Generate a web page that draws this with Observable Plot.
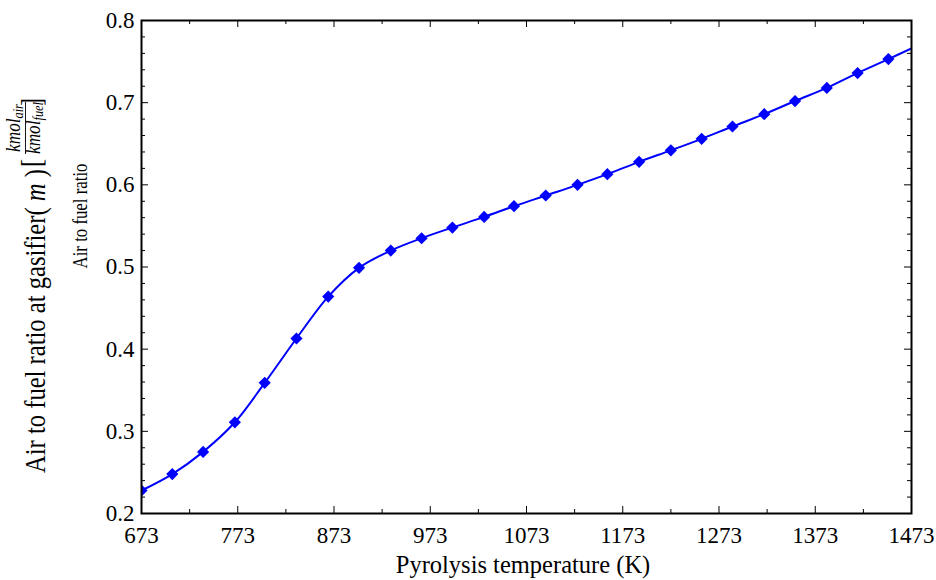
<!DOCTYPE html>
<html>
<head>
<meta charset="utf-8">
<script src="https://cdn.jsdelivr.net/npm/d3@7"></script>
<script src="https://cdn.jsdelivr.net/npm/@observablehq/plot@0.6"></script>
<style>
  html, body { margin: 0; padding: 0; background: white; }
  #wrap { width: 936px; height: 580px; }
</style>
</head>
<body>
<div id="wrap"></div>
<script>
// ---- data ----
const temperatures = [673, 705, 737, 770, 801, 834, 867, 899, 932, 964, 996, 1029, 1060, 1093, 1126, 1157, 1190, 1223, 1255, 1287, 1320, 1352, 1385, 1417, 1449];
const airFuelRatio = [0.228, 0.248, 0.275, 0.311, 0.359, 0.413, 0.464, 0.499, 0.520, 0.535, 0.548, 0.561, 0.574, 0.587, 0.600, 0.613, 0.628, 0.642, 0.656, 0.671, 0.686, 0.702, 0.718, 0.736, 0.753];
const lineEndTemperature = [1473];
const lineEndRatio = [0.766];
const xTicks = [673, 773, 873, 973, 1073, 1173, 1273, 1373, 1473];
const xMinorTicks = [723, 823, 923, 1023, 1123, 1223, 1323, 1423];
const yTicks = [0.2, 0.3, 0.4, 0.5, 0.6, 0.7, 0.8];
const yMinorTicks = [0.22, 0.24, 0.26, 0.28, 0.32, 0.34, 0.36, 0.38, 0.42, 0.44, 0.46, 0.48, 0.52, 0.54, 0.56, 0.58, 0.62, 0.64, 0.66, 0.68, 0.72, 0.74, 0.76, 0.78];
const xTitle = "Pyrolysis temperature (K)";
const yTitleSmall = "Air to fuel ratio";
const yTitleMain = "Air to fuel ratio at gasifier( ";
const yTitleVar = "m";

// ---- build tables ----
const markers = temperatures.map((t, i) => ({t, r: airFuelRatio[i]}));
const linePts = markers.concat(lineEndTemperature.map((t, i) => ({t, r: lineEndRatio[i]})));

const W = 936, H = 580;
const mL = 141, mR = 25, mT = 20, mB = 67;
const pw = W - mL - mR, ph = H - mT - mB;
const serif = "'Liberation Serif', 'Times New Roman', serif";
const blue = "#0000ff";

const chart = Plot.plot({
  width: W, height: H,
  marginLeft: mL, marginRight: mR, marginTop: mT, marginBottom: mB,
  style: {fontFamily: serif, color: "black", background: "white", overflow: "visible"},
  x: {domain: [673, 1473]},
  y: {domain: [0.2, 0.8]},
  marks: [
    Plot.axisX(xTicks, {tickSize: 0, tickPadding: 13, fontSize: 23, tickFormat: d => String(d), label: null}),
    Plot.axisY(yTicks, {tickSize: 0, tickPadding: 7, fontSize: 23, tickFormat: d3.format(".1f"), label: null}),
    // inward ticks, bottom & top
    Plot.tickX(xTicks, {x: d => d, insetTop: ph - 7, stroke: "black", strokeWidth: 1}),
    Plot.tickX(xTicks, {x: d => d, insetBottom: ph - 7, stroke: "black", strokeWidth: 1}),
    Plot.tickX(xMinorTicks, {x: d => d, insetTop: ph - 4, stroke: "black", strokeWidth: 1}),
    Plot.tickX(xMinorTicks, {x: d => d, insetBottom: ph - 4, stroke: "black", strokeWidth: 1}),
    // inward ticks, left & right
    Plot.tickY(yTicks, {y: d => d, insetRight: pw - 7, stroke: "black", strokeWidth: 1}),
    Plot.tickY(yTicks, {y: d => d, insetLeft: pw - 7, stroke: "black", strokeWidth: 1}),
    Plot.tickY(yMinorTicks, {y: d => d, insetRight: pw - 4, stroke: "black", strokeWidth: 1}),
    Plot.tickY(yMinorTicks, {y: d => d, insetLeft: pw - 4, stroke: "black", strokeWidth: 1}),
    Plot.line(linePts, {x: "t", y: "r", stroke: blue, strokeWidth: 2, curve: "catmull-rom", clip: true}),
    Plot.dot(markers, {x: "t", y: "r", symbol: "diamond2", r: 5.5, fill: blue, stroke: "none", clip: true}),
    Plot.frame({stroke: "black", strokeWidth: 2})
  ]
});
document.getElementById("wrap").append(chart);

// ---- axis titles ----
const svg = d3.select(chart);
svg.append("text")
  .attr("x", mL + pw / 2 - 3).attr("y", 573)
  .attr("text-anchor", "middle")
  .attr("font-family", serif).attr("font-size", 24.5).attr("fill", "black")
  .text(xTitle);

svg.append("text")
  .attr("transform", "translate(87,216) rotate(-90) scale(0.8,1)")
  .attr("text-anchor", "middle")
  .attr("font-family", serif).attr("font-size", 21).attr("fill", "black")
  .text(yTitleSmall);

// big y title with fraction unit (rotated, slightly condensed along its length)
const k = 0.82;
const g = svg.append("g")
  .attr("font-family", serif).attr("fill", "black")
  .attr("transform", `translate(45,0) rotate(-90) scale(${k},1)`);
const t = g.append("text").attr("font-size", 30).attr("x", -163 / k).attr("y", 0).attr("text-anchor", "end");
t.append("tspan").text(yTitleMain);
t.append("tspan").attr("font-style", "italic").text(yTitleVar);
t.append("tspan").text(" ) ");
g.append("text").attr("font-size", 30).attr("x", -163 / k).attr("y", -4).text("[");

function fracPart(main, sub, y) {
  const e = g.append("text").attr("font-size", 21).attr("font-style", "italic")
    .attr("text-anchor", "middle").attr("x", -128 / k).attr("y", y);
  e.append("tspan").text(main);
  e.append("tspan").attr("font-size", 15).attr("dy", 3).text(sub);
  return e;
}
fracPart("kmol", "air", -25);
fracPart("kmol", "fuel", -5);
g.append("line").attr("x1", -154 / k).attr("x2", -102 / k).attr("y1", -19.5).attr("y2", -19.5)
  .attr("stroke", "black").attr("stroke-width", 1);
g.append("text").attr("font-size", 30).attr("x", -102 / k).attr("y", -4).text("]");
</script>
</body>
</html>
